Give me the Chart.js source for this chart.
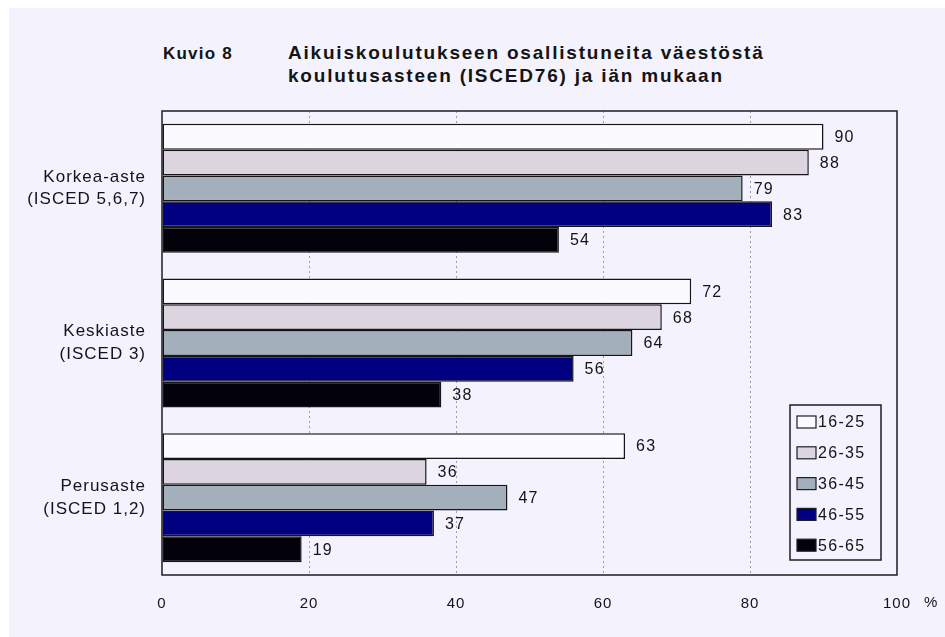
<!DOCTYPE html>
<html>
<head>
<meta charset="utf-8">
<script src="https://cdn.jsdelivr.net/npm/chart.js@4.4.1/dist/chart.umd.min.js"></script>
<style>
  html, body { margin: 0; padding: 0; background: #ffffff; }
  #wrap { position: relative; width: 945px; height: 637px; overflow: hidden; }
  #bg { position: absolute; left: 9px; top: 8px; right: 0; bottom: 0; background: #f3f2fd; }
  #chart { position: absolute; left: 0; top: 0; }
  .ttl { position: absolute; font-family: "Liberation Sans", Arial, sans-serif; font-weight: bold;
         line-height: 23px; color: #141414; white-space: nowrap; }
</style>
</head>
<body>
<div id="wrap">
  <div id="bg"></div>
  <div class="ttl" id="kuvio" style="left:163px; top:42px; font-size:17px; letter-spacing:1.2px;">Kuvio 8</div>
  <div class="ttl" id="title" style="left:288px; top:41px; font-size:19px; letter-spacing:1.8px;">Aikuiskoulutukseen osallistuneita väestöstä<br>koulutusasteen (ISCED76) ja iän mukaan</div>
  <canvas id="chart" width="945" height="637"></canvas>
</div>
<script>
// categories (education level)
const categories = [
    ['Korkea-aste', '(ISCED 5,6,7)'],
    ['Keskiaste', '(ISCED 3)'],
    ['Perusaste', '(ISCED 1,2)']
];
// age groups
const ageGroups = ['16-25', '26-35', '36-45', '46-55', '56-65'];
const colors = ['#fbfaff', '#dcd5df', '#a3afba', '#000080', '#03020a'];

// participation %, one array per age group
const age16_25 = [90, 72, 63];
const age26_35 = [88, 68, 36];
const age36_45 = [79, 64, 47];
const age46_55 = [83, 56, 37];
const age56_65 = [54, 38, 19];
const seriesValues = [age16_25, age26_35, age36_45, age46_55, age56_65];

const xTicks = [0, 20, 40, 60, 80, 100];

const FONT = '"Liberation Sans", Arial, sans-serif';
const INK = '#141414';

// value labels next to each bar
const valueLabels = {
    id: 'valueLabels',
    afterDatasetsDraw(chart) {
        const ctx = chart.ctx;
        ctx.save();
        ctx.font = '16px ' + FONT;
        ctx.letterSpacing = '1.2px';
        ctx.fillStyle = INK;
        ctx.textAlign = 'left';
        ctx.textBaseline = 'middle';
        chart.data.datasets.forEach((ds, i) => {
            chart.getDatasetMeta(i).data.forEach((bar, j) => {
                ctx.fillText(String(ds.data[j]), bar.x + 11, bar.y + 1);
            });
        });
        ctx.restore();
    }
};

// frame round the plot, '%' unit and legend box
const frameAndLegend = {
    id: 'frameAndLegend',
    beforeDraw(chart) {
        chart.ctx.letterSpacing = '1px';
    },
    afterDraw(chart) {
        const ctx = chart.ctx;
        const a = chart.chartArea;
        ctx.save();
        ctx.strokeStyle = '#1e1e1e';
        ctx.lineWidth = 1.5;
        ctx.strokeRect(a.left, a.top, a.right - a.left, a.bottom - a.top);

        // % after the 100 tick
        ctx.font = '15px ' + FONT;
        ctx.letterSpacing = '1px';
        ctx.fillStyle = INK;
        ctx.textBaseline = 'middle';
        ctx.textAlign = 'left';
        ctx.fillText('%', a.right + 27, 603);

        // legend
        const lx = 790, ly = 405, lw = 91, lh = 155;
        ctx.fillStyle = '#f3f2fd';
        ctx.fillRect(lx, ly, lw, lh);
        ctx.lineWidth = 1.5;
        ctx.strokeStyle = '#1e1e1e';
        ctx.strokeRect(lx, ly, lw, lh);
        ctx.font = '16px ' + FONT;
        ctx.letterSpacing = '1.3px';
        chart.data.datasets.forEach((ds, i) => {
            const cy = 422 + i * 30.8;
            ctx.fillStyle = ds.backgroundColor;
            ctx.fillRect(797, cy - 6, 19, 12);
            ctx.lineWidth = 1.2;
            ctx.strokeRect(797, cy - 6, 19, 12);
            ctx.fillStyle = INK;
            ctx.fillText(ds.label, 818, cy + 1);
        });
        ctx.restore();
    }
};

const datasets = ageGroups.map((g, i) => ({
    label: g,
    data: seriesValues[i],
    backgroundColor: colors[i],
    borderColor: '#161616',
    borderWidth: 1.5,
    borderSkipped: false,
    barPercentage: 1.0,
    categoryPercentage: 0.834
}));

new Chart(document.getElementById('chart'), {
    type: 'bar',
    data: { labels: categories, datasets: datasets },
    plugins: [valueLabels, frameAndLegend],
    options: {
        indexAxis: 'y',
        responsive: false,
        animation: false,
        layout: { padding: { top: 111, right: 48, left: 0, bottom: 0 } },
        plugins: {
            legend: { display: false },
            tooltip: { enabled: false }
        },
        scales: {
            x: {
                min: 0,
                max: 100,
                afterBuildTicks(scale) { scale.ticks = xTicks.map(v => ({ value: v })); },
                afterFit(scale) { scale.height = 62; },
                ticks: {
                    font: { family: FONT, size: 15 },
                    color: INK,
                    padding: 20,
                    maxRotation: 0
                },
                grid: {
                    drawTicks: false,
                    lineWidth: 1,
                    color: c => (c.tick && c.tick.value > 0 && c.tick.value < 100) ? '#9c9cab' : 'rgba(0,0,0,0)'
                },
                border: { display: false, dash: [2, 3] }
            },
            y: {
                afterFit(scale) { scale.width = 162; },
                ticks: {
                    font: { family: FONT, size: 17, lineHeight: 1.35 },
                    color: INK,
                    padding: 16
                },
                grid: { display: false, drawTicks: false },
                border: { display: false }
            }
        }
    }
});
</script>
</body>
</html>
